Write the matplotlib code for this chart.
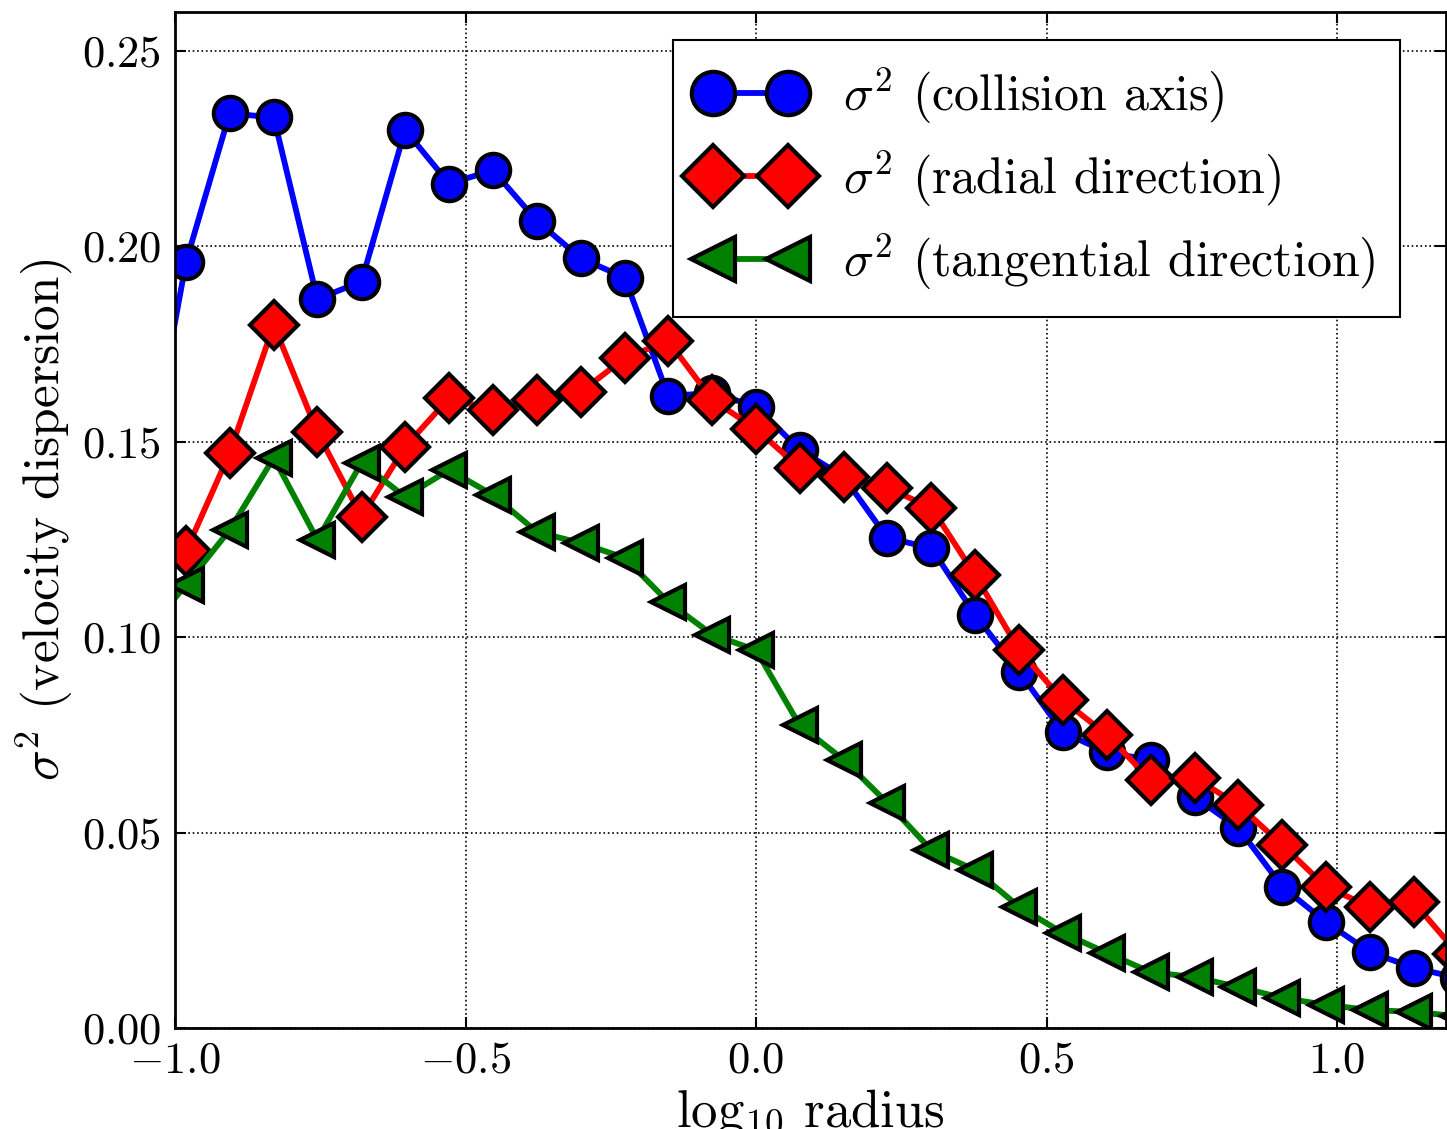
import matplotlib
matplotlib.use('Agg')
import matplotlib.pyplot as plt
from matplotlib.ticker import FuncFormatter, MultipleLocator

# Computer Modern look
plt.rcParams['font.family'] = 'serif'
plt.rcParams['font.serif'] = ['cmr10']
plt.rcParams['mathtext.fontset'] = 'cm'
plt.rcParams['axes.formatter.use_mathtext'] = True

# log10 radius bins (first and last are partly outside the axes)
log_radius = [-1.056, -0.981, -0.906, -0.830, -0.755, -0.679, -0.604, -0.528,
              -0.453, -0.377, -0.302, -0.226, -0.151, -0.075, 0.000, 0.075,
              0.151, 0.226, 0.302, 0.377, 0.453, 0.528, 0.604, 0.679, 0.755,
              0.830, 0.906, 0.981, 1.057, 1.132, 1.208]

sigma_collision = [0.135, 0.196, 0.234, 0.233, 0.1865, 0.191, 0.2298, 0.216,
                   0.2195, 0.2065, 0.197, 0.192, 0.1617, 0.1625, 0.159, 0.148,
                   0.141, 0.1254, 0.1228, 0.1057, 0.0911, 0.0757, 0.0705,
                   0.0686, 0.0591, 0.0512, 0.0361, 0.0271, 0.0194, 0.0154, 0.0128]

sigma_radial = [0.110, 0.122, 0.1471, 0.1799, 0.1525, 0.1308, 0.1487, 0.1612,
                0.1581, 0.1607, 0.1627, 0.1714, 0.1758, 0.1607, 0.1533, 0.1433,
                0.141, 0.1382, 0.1331, 0.1159, 0.0967, 0.0839, 0.075, 0.0635,
                0.064, 0.0571, 0.0468, 0.0361, 0.031, 0.0322, 0.019]

sigma_tangential = [0.100, 0.1134, 0.1274, 0.1459, 0.1249, 0.1446, 0.1359,
                    0.1428, 0.1364, 0.1269, 0.1241, 0.1203, 0.109, 0.1006,
                    0.0967, 0.0775, 0.0686, 0.0576, 0.0455, 0.0404, 0.031,
                    0.0243, 0.0192, 0.0143, 0.013, 0.0105, 0.0077, 0.0059,
                    0.0046, 0.0041, 0.003]

fig = plt.figure(figsize=(14.47, 11.29), dpi=100)
ax = fig.add_axes([175 / 1447, 0.0895, 1271 / 1447, 0.900])

style = dict(linewidth=4.2, markersize=24, markeredgewidth=3, markeredgecolor='black')
ax.plot(log_radius, sigma_collision, color='blue', marker='o',
        label=r'$\sigma^2$ (collision axis)', **style)
ax.plot(log_radius, sigma_radial, color='red', marker='D',
        label=r'$\sigma^2$ (radial direction)', **style)
ax.plot(log_radius, sigma_tangential, color='green', marker='<',
        label=r'$\sigma^2$ (tangential direction)', **style)

ax.set_xlim(-1.0, 1.1876)
ax.set_ylim(0.0, 0.26)
ax.xaxis.set_major_locator(MultipleLocator(0.5))
ax.yaxis.set_major_locator(MultipleLocator(0.05))
ax.xaxis.set_major_formatter(FuncFormatter(lambda v, p: '$%.1f$' % v))
ax.yaxis.set_major_formatter(FuncFormatter(lambda v, p: '$%.2f$' % v))
ax.tick_params(direction='in', top=True, right=True, length=8, width=1.5,
               labelsize=32, pad=10)
ax.grid(True, color='black', linestyle=':', linewidth=1.2)
for s in ax.spines.values():
    s.set_linewidth(2)

ax.set_xlabel(r'$\mathrm{log}_{10}$ radius', fontsize=38, labelpad=4)
ax.set_ylabel(r'$\sigma^2$ (velocity dispersion)', fontsize=37, labelpad=6)

leg = ax.legend(loc='upper left', bbox_to_anchor=(673 / 1447, 1 - 40 / 1129),
                bbox_transform=fig.transFigure, borderaxespad=0, numpoints=2,
                fancybox=False, framealpha=1, fontsize=36, handlelength=2.1,
                labelspacing=0.45, borderpad=0.5, handletextpad=0.8,
                markerscale=1.3)
leg.get_frame().set_edgecolor('black')
leg.get_frame().set_linewidth(1.5)

fig.savefig('out.png', dpi=100)
